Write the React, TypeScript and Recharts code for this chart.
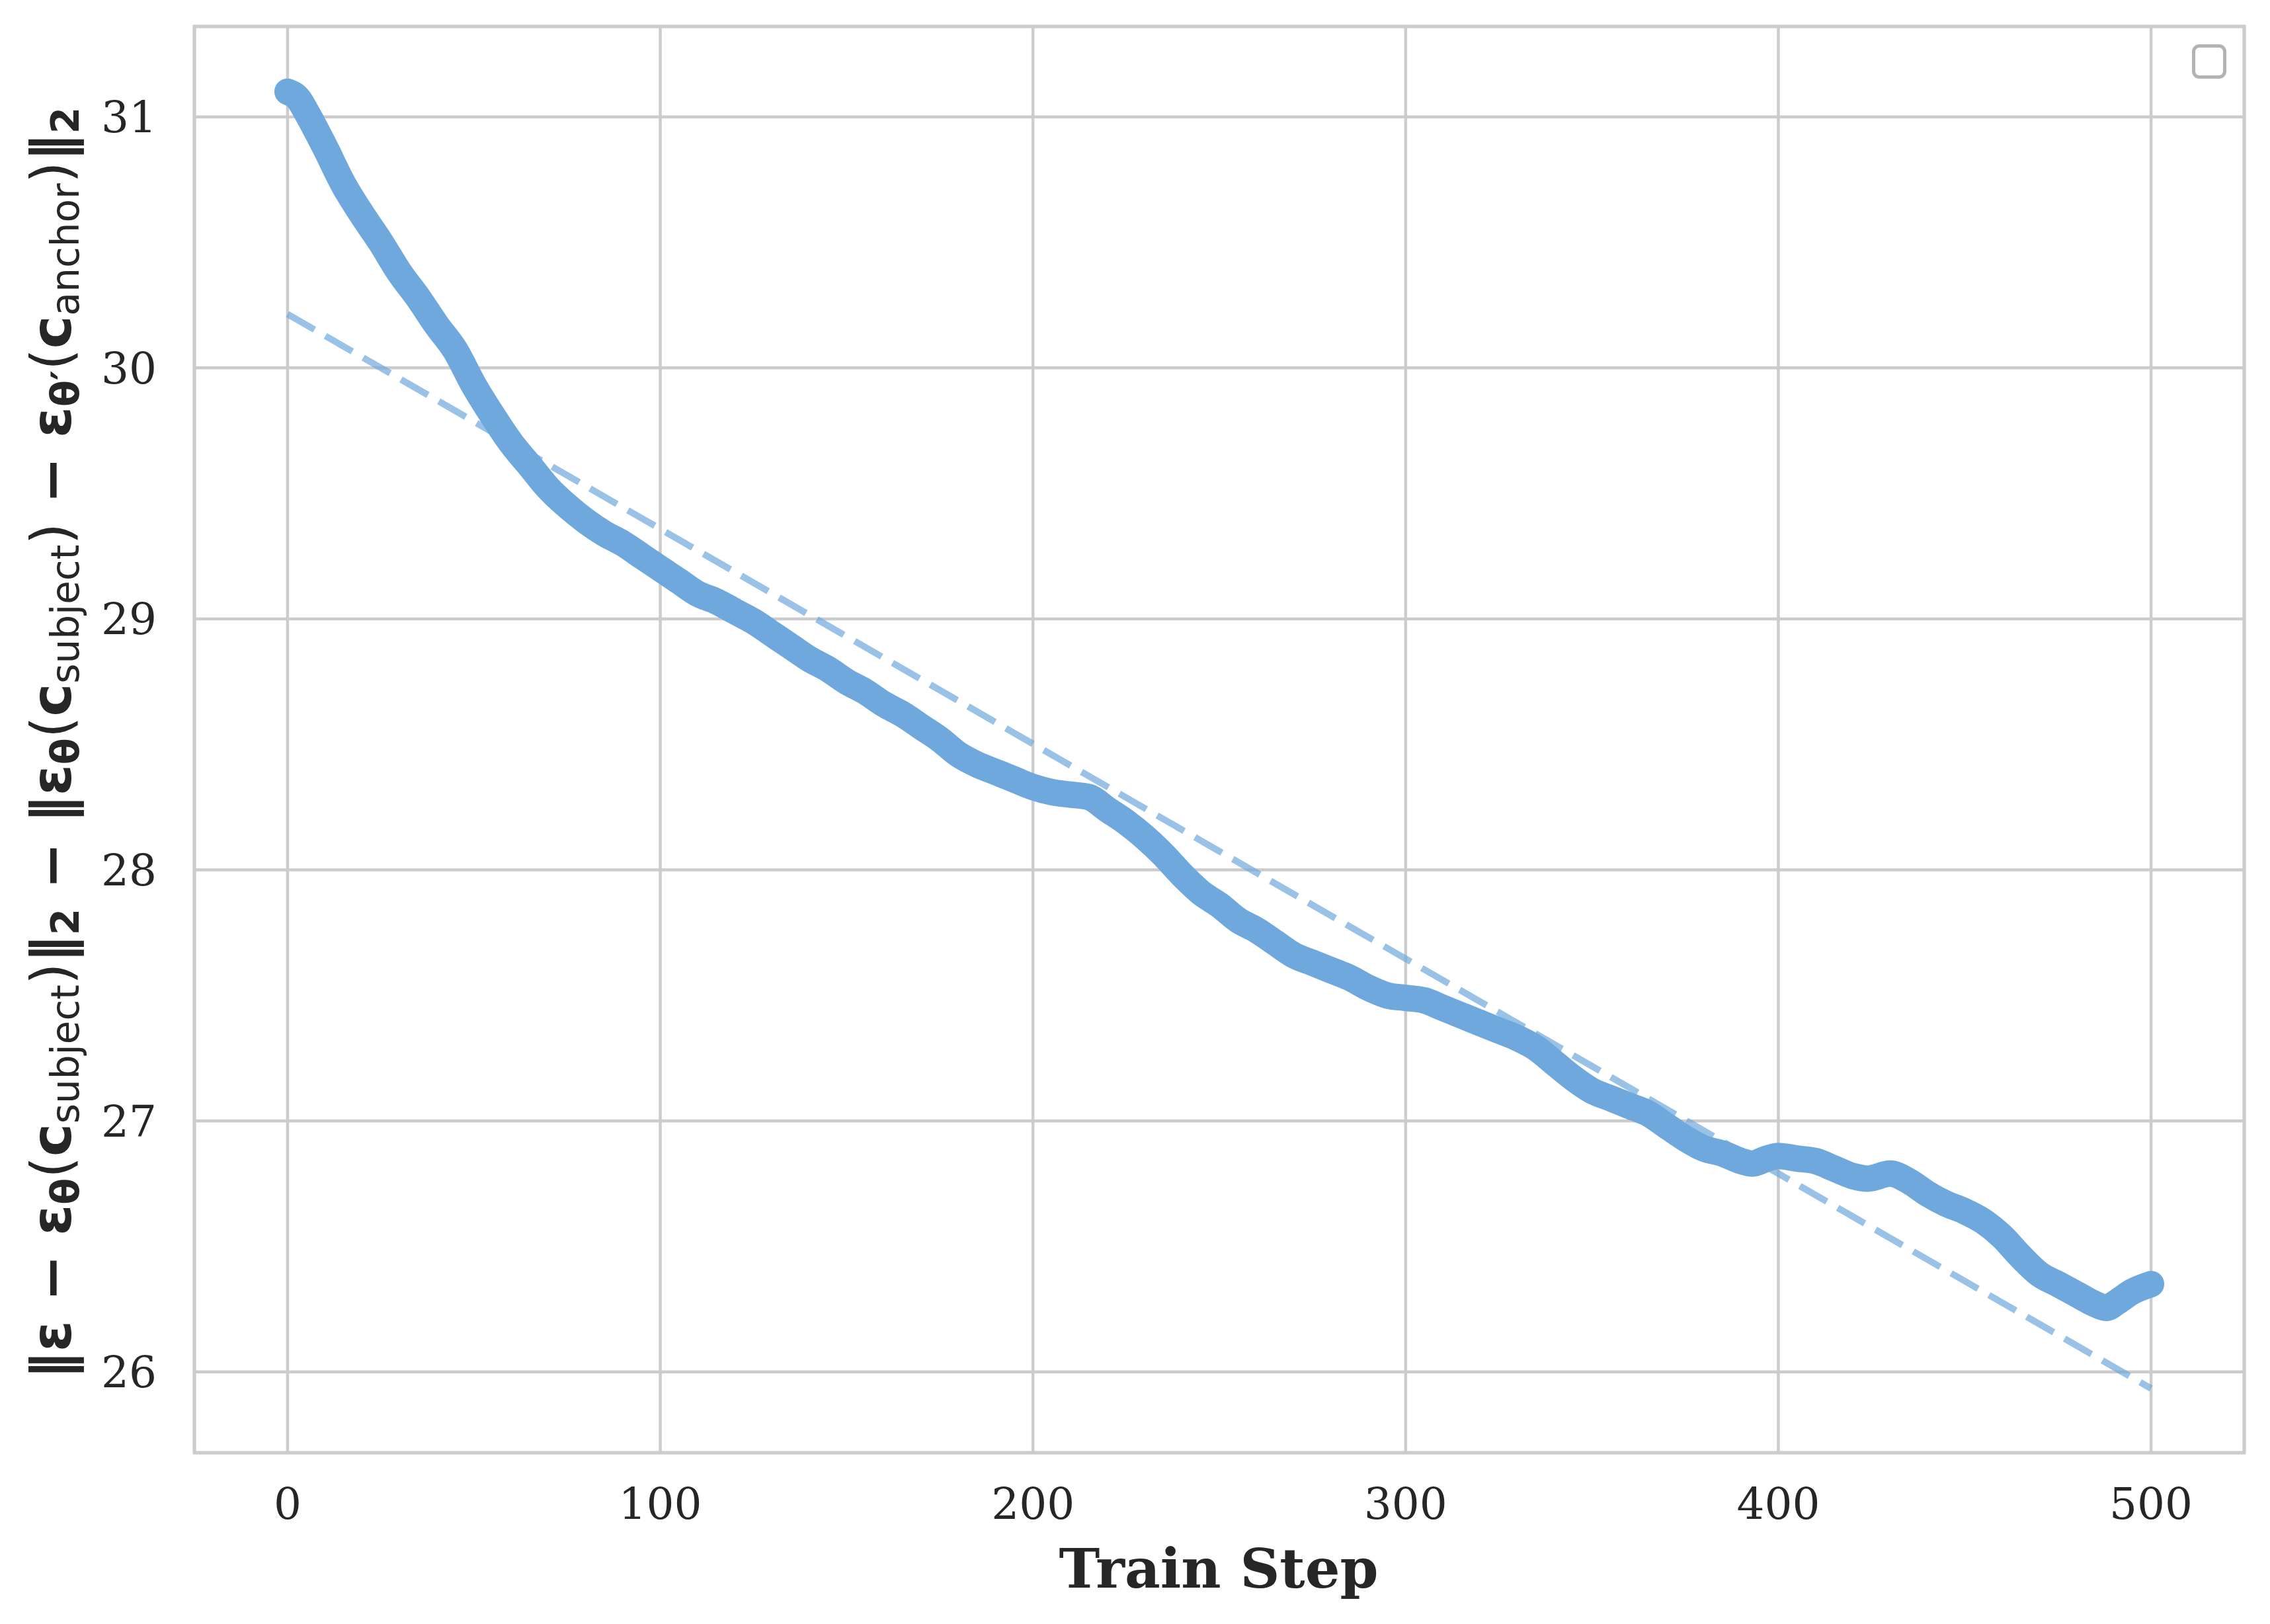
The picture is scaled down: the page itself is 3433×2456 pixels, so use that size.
import React from 'react';
import { LineChart, Line, XAxis, YAxis, CartesianGrid, ReferenceArea } from 'recharts';

const steps = [
  0, 3, 5, 10, 15, 20, 25, 30, 35, 40, 45, 50, 55, 60, 65, 70, 75, 80, 85, 90, 95,
  100, 105, 110, 115, 120, 125, 130, 135, 140, 145, 150, 155, 160, 165, 170, 175, 180, 185, 190, 195,
  200, 205, 210, 215, 220, 225, 230, 235, 240, 245, 250, 255, 260, 265, 270, 275, 280, 285, 290, 295,
  300, 305, 310, 315, 320, 325, 330, 335, 340, 345, 350, 355, 360, 365, 370, 375, 380, 385, 390, 393, 397,
  400, 405, 410, 415, 420, 424, 430, 435, 440, 445, 450, 455, 460, 465, 470, 475, 480, 485, 488, 491, 495, 500,
];
const distance = [
  31.1, 31.07, 31.02, 30.88, 30.73, 30.61, 30.5, 30.38, 30.28, 30.17, 30.07, 29.93, 29.81, 29.7, 29.61, 29.52, 29.45, 29.39, 29.34, 29.3, 29.25,
  29.2, 29.15, 29.1, 29.07, 29.03, 28.99, 28.94, 28.89, 28.84, 28.8, 28.75, 28.71, 28.66, 28.62, 28.57, 28.52, 28.46, 28.42, 28.39, 28.36,
  28.33, 28.31, 28.3, 28.29, 28.24, 28.19, 28.13, 28.06, 27.98, 27.91, 27.86, 27.8, 27.76, 27.71, 27.66, 27.63, 27.6, 27.57, 27.53, 27.5,
  27.49, 27.48, 27.45, 27.42, 27.39, 27.36, 27.33, 27.29, 27.23, 27.17, 27.12, 27.09, 27.06, 27.03, 26.98, 26.93, 26.89, 26.87, 26.84, 26.83, 26.85,
  26.86, 26.85, 26.84, 26.81, 26.78, 26.77, 26.79, 26.76, 26.71, 26.67, 26.64, 26.6, 26.54, 26.46, 26.39, 26.35, 26.31, 26.27, 26.255, 26.28, 26.32, 26.35,
];
const fitSteps = [0, 500];
const fitValues = [30.214, 25.934];
const xTicks = [0, 100, 200, 300, 400, 500];
const yTicks = [26, 27, 28, 29, 30, 31];

const X_DOMAIN: [number, number] = [-25, 525];
const Y_DOMAIN: [number, number] = [25.678, 31.36];

const data = steps.map((s, i) => ({ step: s, value: distance[i] }));
const fitData = fitSteps.map((s, i) => ({ step: s, fit: fitValues[i] }));

const TEXT = '#262626';
const BLUE = '#6fa8dc';
const GRID = '#cccccc';

const XLabel = () => (
  <text
    x={1843}
    y={2401}
    textAnchor="middle"
    fontFamily="DejaVu Serif"
    fontWeight="bold"
    fontSize={83}
    fill={TEXT}
  >
    Train Step
  </text>
);

const SUB = 58;
const SH = 12;

const YLabel = () => (
  <text
    transform="translate(107,1124) rotate(-90)"
    textAnchor="middle"
    fontFamily="DejaVu Sans"
    fontWeight="bold"
    fontSize={84}
    fill={TEXT}
  >
    <tspan>‖ε − ε</tspan>
    <tspan fontSize={SUB} dy={SH}>θ</tspan>
    <tspan dy={-SH} fontWeight="normal">(</tspan>
    <tspan>c</tspan>
    <tspan fontSize={SUB} fontWeight="normal" dy={SH}>subject</tspan>
    <tspan dy={-SH} fontWeight="normal">)</tspan>
    <tspan>‖</tspan>
    <tspan fontSize={SUB} dy={SH}>2</tspan>
    <tspan dy={-SH}> − ‖ε</tspan>
    <tspan fontSize={SUB} dy={SH}>θ</tspan>
    <tspan dy={-SH} fontWeight="normal">(</tspan>
    <tspan>c</tspan>
    <tspan fontSize={SUB} fontWeight="normal" dy={SH}>subject</tspan>
    <tspan dy={-SH} fontWeight="normal">)</tspan>
    <tspan> − ε</tspan>
    <tspan fontSize={SUB} dy={SH}>θ′</tspan>
    <tspan dy={-SH} fontWeight="normal">(</tspan>
    <tspan>c</tspan>
    <tspan fontSize={SUB} fontWeight="normal" dy={SH}>anchor</tspan>
    <tspan dy={-SH} fontWeight="normal">)</tspan>
    <tspan>‖</tspan>
    <tspan fontSize={SUB} dy={SH}>2</tspan>
  </text>
);

export default function App() {
  return (
    <div style={{ position: 'absolute', left: 0, top: 0, width: 3433, height: 2456, background: '#ffffff' }}>
      <LineChart
        width={3433}
        height={2456}
        data={data}
        margin={{ top: 40, right: 39, left: 0, bottom: 0 }}
      >
        <CartesianGrid stroke={GRID} strokeWidth={4.5} />
        <XAxis
          dataKey="step"
          type="number"
          domain={X_DOMAIN}
          ticks={xTicks}
          allowDataOverflow
          height={259}
          axisLine={false}
          tickLine={false}
          tickSize={0}
          tickMargin={53}
          tick={{ fontFamily: 'DejaVu Serif', fontSize: 66, fill: TEXT }}
          label={<XLabel />}
        />
        <YAxis
          type="number"
          domain={Y_DOMAIN}
          ticks={yTicks}
          allowDataOverflow
          width={294}
          axisLine={false}
          tickLine={false}
          tickSize={0}
          tickMargin={57}
          tick={{ fontFamily: 'DejaVu Serif', fontSize: 66, fill: TEXT }}
          label={<YLabel />}
        />
        <ReferenceArea
          x1={X_DOMAIN[0]}
          x2={X_DOMAIN[1]}
          y1={Y_DOMAIN[0]}
          y2={Y_DOMAIN[1]}
          fill="none"
          fillOpacity={0}
          stroke={GRID}
          strokeWidth={5}
        />
        <Line
          type="monotone"
          dataKey="value"
          stroke={BLUE}
          strokeWidth={40}
          strokeLinecap="round"
          strokeLinejoin="round"
          dot={false}
          activeDot={false}
          isAnimationActive={false}
        />
        <Line
          data={fitData}
          type="linear"
          dataKey="fit"
          stroke={BLUE}
          strokeOpacity={0.7}
          strokeWidth={10}
          strokeDasharray="47 19"
          dot={false}
          activeDot={false}
          isAnimationActive={false}
        />
      </LineChart>
      <div
        style={{
          position: 'absolute',
          left: 3315,
          top: 67,
          width: 52,
          height: 52,
          boxSizing: 'border-box',
          border: '5px solid #b3b3b3',
          borderRadius: 11,
        }}
      />
    </div>
  );
}
